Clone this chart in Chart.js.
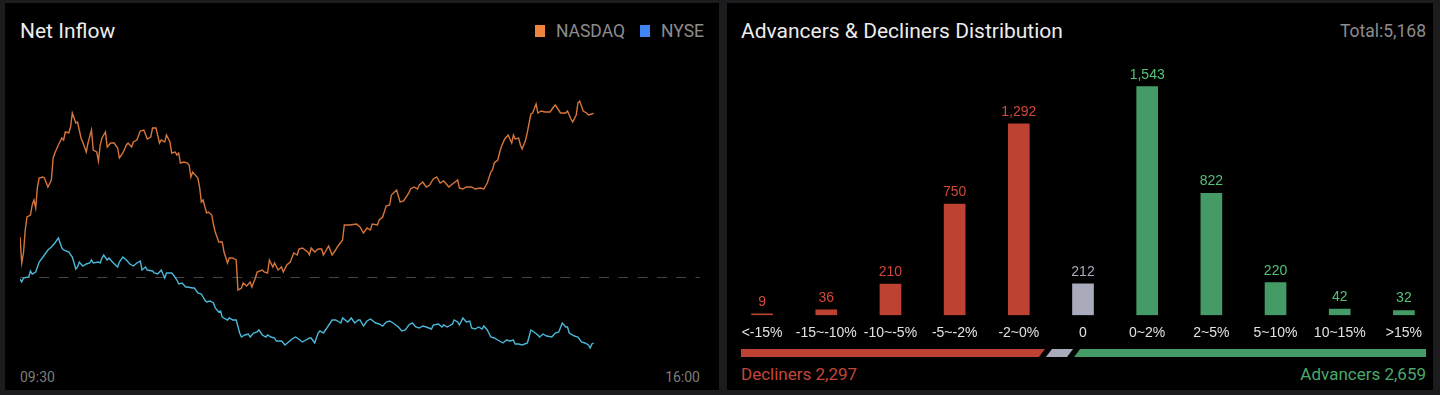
<!DOCTYPE html>
<html>
<head>
<meta charset="utf-8">
<title>Net Inflow / Advancers & Decliners Distribution</title>
<script src="https://cdn.jsdelivr.net/npm/chart.js@4.4.1/dist/chart.umd.min.js"></script>
<style>
  html, body { margin: 0; padding: 0; width: 1440px; height: 395px; overflow: hidden; background: #1c1c1e; font-family: Roboto, "Noto Sans", sans-serif; }
  .panel { position: absolute; top: 3px; height: 387px; background: #000; }
  .abs { position: absolute; }
  .title { top: 20px; font-size: 21px; line-height: 22px; color: #ececec; }
  .legend { top: 22px; right: 736px; display: flex; align-items: center; font-size: 17.5px; line-height: 18px; color: #8c8c8c; }
  .legend i { display: inline-block; width: 10px; height: 12px; margin-right: 11px; }
  .legend span + i { margin-left: 15px; }
  .time { top: 369px; font-size: 14px; line-height: 16px; color: #7c7c7c; }
  .side { top: 364px; font-size: 17px; line-height: 20px; }
</style>
</head>
<body>
<div class="panel" style="left:5px;width:714px"></div>
<div class="panel" style="left:727px;width:706px"></div>

<div class="abs title" style="left:20px">Net Inflow</div>
<div class="abs legend" id="legend"></div>
<div class="abs" style="left:20px;top:60px;width:680px;height:300px"><canvas id="flow"></canvas></div>
<div class="abs time" id="tStart" style="left:20px"></div>
<div class="abs time" id="tEnd" style="right:740px"></div>

<div class="abs title" style="left:741px">Advancers &amp; Decliners Distribution</div>
<div class="abs" id="total" style="top:22px;right:14px;font-size:17.5px;line-height:18px;color:#8c8c8c"></div>
<div class="abs" style="left:730px;top:60px;width:706px;height:292px"><canvas id="dist"></canvas></div>
<div class="abs" style="left:741px;top:349px;width:685px;height:8px"><canvas id="split"></canvas></div>
<div class="abs side" id="decl" style="left:741px;color:#c4463a"></div>
<div class="abs side" id="adv" style="right:14px;color:#4aa86c"></div>

<script>
// net inflow, minutes after 09:30
const nasdaqMin = [0,1,2,3,4,6,7,8,9,10,11,13,14,16,18,19,20,22,24,25,26,28,29,30,32,33,35,36,38,39,41,42,44,45,46,47,48,49,50,52,54,56,57,59,61,62,64,65,67,69,71,73,75,76,78,80,81,83,84,86,87,89,90,91,92,94,96,97,98,99,102,103,104,105,107,108,110,111,112,114,116,117,119,120,122,124,125,127,128,130,132,133,135,136,139,140,142,143,145,146,148,150,151,153,155,157,159,160,162,165,166,167,169,171,173,174,177,179,181,182,185,186,189,193,195,197,199,201,202,205,206,208,210,212,213,216,218,220,223,224,226,228,229,231,233,235,237,239,241,243,246,248,251,252,254,256,259,261,264,266,268,270,271,272,274,275,276,278,280,282,283,284,286,287,288,290,291,293,294,296,297,299,301,304,306,307,310,313,314,316,317,319,320,321,323,325,326,328,329]
const nasdaqFlow = [40,14,24,47,60,62,72,77,69,90,99,100,99,90,97,119,124,132,139,137,145,144,150,164,154,155,139,135,125,134,147,127,125,116,132,139,142,145,130,134,134,129,119,124,132,134,130,135,137,146,147,138,140,149,149,134,137,135,142,135,124,125,122,124,114,115,114,112,100,105,99,90,75,77,64,65,62,52,45,35,35,25,14,19,19,17,-13,-11,-6,-9,-5,-10,-1,5,7,5,4,17,10,14,7,10,5,12,15,24,22,28,29,25,22,29,25,28,28,22,31,22,27,30,37,52,52,53,50,44,49,47,53,52,57,60,71,72,82,87,75,76,84,88,90,88,92,95,90,92,98,100,94,96,90,93,97,89,88,90,90,88,89,88,94,105,107,114,117,124,130,138,142,134,142,138,139,132,128,137,145,163,164,173,164,166,165,165,170,172,164,164,166,158,155,162,174,176,166,164,162,163,164]
const nyseMin = [0,1,2,5,6,7,9,11,14,16,18,20,22,24,25,28,30,32,33,34,36,38,40,41,42,45,46,47,48,50,51,53,56,57,59,61,63,65,67,69,70,72,73,76,77,79,81,83,84,87,88,90,91,93,95,96,99,100,102,104,106,107,109,111,112,114,115,116,119,120,122,124,126,127,129,131,132,134,136,137,139,141,142,144,146,147,150,152,154,156,158,159,162,163,166,167,169,171,172,174,176,179,181,184,185,188,190,192,194,195,197,199,201,204,206,208,210,212,214,217,219,221,223,225,227,229,231,233,236,237,240,242,243,245,248,249,251,252,254,256,258,259,261,263,265,266,268,270,272,274,276,277,279,281,283,284,286,288,291,293,294,297,298,300,302,305,307,309,311,313,314,315,318,320,322,324,326,327,328,329]
const nyseFlow = [-2,-5,-1,0,6,3,5,15,22,27,30,34,39,29,27,25,20,8,10,15,11,13,14,17,14,15,14,19,22,17,19,15,10,15,20,17,13,11,14,16,7,10,7,6,4,3,7,-1,4,4,2,-3,-7,-6,-10,-10,-11,-11,-16,-17,-23,-25,-24,-26,-31,-35,-34,-40,-43,-41,-43,-43,-56,-60,-58,-57,-60,-56,-55,-53,-58,-60,-58,-60,-61,-64,-64,-68,-65,-62,-60,-61,-65,-64,-61,-61,-66,-56,-54,-56,-51,-43,-43,-46,-41,-45,-41,-46,-43,-43,-49,-44,-42,-46,-47,-49,-45,-44,-46,-50,-54,-53,-48,-46,-50,-51,-49,-50,-52,-48,-47,-50,-48,-50,-47,-43,-45,-48,-41,-45,-44,-51,-52,-50,-52,-49,-53,-60,-61,-63,-65,-66,-63,-64,-63,-67,-67,-68,-66,-53,-54,-58,-60,-57,-59,-60,-56,-55,-46,-50,-50,-56,-59,-60,-65,-66,-68,-71,-67,-66]
const timeTicks = ['09:30', '16:00']

// advancers & decliners
const ranges = ['<-15%', '-15~-10%', '-10~-5%', '-5~-2%', '-2~0%', '0', '0~2%', '2~5%', '5~10%', '10~15%', '>15%']
const counts = [9, 36, 210, 750, 1292, 212, 1543, 822, 220, 42, 32]
const splitNames = ['Decliners', 'Flat', 'Advancers']
const splitCounts = [2297, 212, 2659]

const RED = '#bd4232', GRAY = '#a9abbd', GREEN = '#449b66'
const RED_TXT = '#d2493a', GRAY_TXT = '#a9abbd', GREEN_TXT = '#55c27a'
const fmt = n => n.toLocaleString('en-US')
const total = splitCounts.reduce((a, b) => a + b, 0)

document.getElementById('legend').innerHTML =
  '<i style="background:#ee843e"></i><span>NASDAQ</span><i style="background:#3f86f2"></i><span>NYSE</span>'
document.getElementById('tStart').textContent = timeTicks[0]
document.getElementById('tEnd').textContent = timeTicks[1]
document.getElementById('total').textContent = 'Total:' + fmt(total)
document.getElementById('decl').textContent = splitNames[0] + ' ' + fmt(splitCounts[0])
document.getElementById('adv').textContent = splitNames[2] + ' ' + fmt(splitCounts[2])

const zeroLine = {
  id: 'zeroLine',
  beforeDatasetsDraw(chart) {
    const { ctx, chartArea } = chart
    const y = Math.round(chart.scales.y.getPixelForValue(0)) + 0.5
    ctx.save()
    ctx.strokeStyle = '#444'
    ctx.lineWidth = 1
    ctx.setLineDash([10, 9.3])
    ctx.beginPath()
    ctx.moveTo(chartArea.left, y)
    ctx.lineTo(chartArea.right, y)
    ctx.stroke()
    ctx.restore()
  }
}

new Chart(document.getElementById('flow'), {
  type: 'line',
  data: {
    datasets: [
      {
        label: 'NASDAQ',
        data: nasdaqMin.map((t, i) => ({ x: t, y: nasdaqFlow[i] })),
        borderColor: '#d5753b',
        borderWidth: 1.4,
        pointRadius: 0,
        tension: 0
      },
      {
        label: 'NYSE',
        data: nyseMin.map((t, i) => ({ x: t, y: nyseFlow[i] })),
        borderColor: '#4bb8d9',
        borderWidth: 1.4,
        pointRadius: 0,
        tension: 0
      }
    ]
  },
  options: {
    animation: false,
    responsive: true,
    maintainAspectRatio: false,
    layout: { padding: 0 },
    plugins: { legend: { display: false }, tooltip: { enabled: false } },
    scales: {
      x: { type: 'linear', min: 0, max: 390, display: false },
      y: { min: -83, max: 217, display: false }
    }
  },
  plugins: [zeroLine]
})

const barColor = i => (i < 5 ? RED : i === 5 ? GRAY : GREEN)
const txtColor = i => (i < 5 ? RED_TXT : i === 5 ? GRAY_TXT : GREEN_TXT)

const valueLabels = {
  id: 'valueLabels',
  afterDatasetsDraw(chart) {
    const { ctx } = chart
    ctx.save()
    ctx.font = '14px "Liberation Sans", Arial, sans-serif'
    ctx.textAlign = 'center'
    ctx.textBaseline = 'alphabetic'
    chart.getDatasetMeta(0).data.forEach((bar, i) => {
      ctx.fillStyle = txtColor(i)
      ctx.fillText(fmt(counts[i]), bar.x, bar.y - 8)
    })
    ctx.restore()
  }
}

new Chart(document.getElementById('dist'), {
  type: 'bar',
  data: {
    labels: ranges,
    datasets: [{
      data: counts,
      backgroundColor: ranges.map((r, i) => barColor(i)),
      barThickness: 21
    }]
  },
  options: {
    animation: false,
    responsive: true,
    maintainAspectRatio: false,
    layout: { padding: 0 },
    plugins: { legend: { display: false }, tooltip: { enabled: false } },
    scales: {
      x: {
        grid: { display: false, drawTicks: false },
        border: { display: false },
        ticks: {
          color: '#e2e2e2',
          padding: 10,
          autoSkip: false,
          maxRotation: 0,
          minRotation: 0,
          font: { family: '"Liberation Sans", Arial, sans-serif', size: 14 }
        }
      },
      y: { min: 0, max: 1723, display: false }
    }
  },
  plugins: [valueLabels]
})

// slanted segments for the split strip
const slant = {
  id: 'slant',
  afterDatasetsDraw(chart) {
    const { ctx } = chart
    const g = 3.5, s = 6
    const last = chart.data.datasets.length - 1
    ctx.save()
    chart.data.datasets.forEach((ds, i) => {
      const el = chart.getDatasetMeta(i).data[0]
      const { x, y, base, height } = el.getProps(['x', 'y', 'base', 'height'])
      const top = y - height / 2, bot = y + height / 2
      const l = Math.min(x, base), r = Math.max(x, base)
      const lb = i > 0 ? l + g - s / 2 : l
      const lt = i > 0 ? l + g + s / 2 : l
      const rb = i < last ? r - g - s / 2 : r
      const rt = i < last ? r - g + s / 2 : r
      ctx.fillStyle = [RED, GRAY, GREEN][i]
      ctx.beginPath()
      ctx.moveTo(lb, bot)
      ctx.lineTo(lt, top)
      ctx.lineTo(rt, top)
      ctx.lineTo(rb, bot)
      ctx.closePath()
      ctx.fill()
    })
    ctx.restore()
  }
}

new Chart(document.getElementById('split'), {
  type: 'bar',
  data: {
    labels: [''],
    datasets: splitNames.map((name, i) => ({
      label: name,
      data: [splitCounts[i]],
      backgroundColor: 'rgba(0,0,0,0)',
      categoryPercentage: 1,
      barPercentage: 1
    }))
  },
  options: {
    indexAxis: 'y',
    animation: false,
    responsive: true,
    maintainAspectRatio: false,
    layout: { padding: 0 },
    plugins: { legend: { display: false }, tooltip: { enabled: false } },
    scales: {
      x: { stacked: true, min: 0, max: total, display: false },
      y: { stacked: true, display: false }
    }
  },
  plugins: [slant]
})
</script>
</body>
</html>
